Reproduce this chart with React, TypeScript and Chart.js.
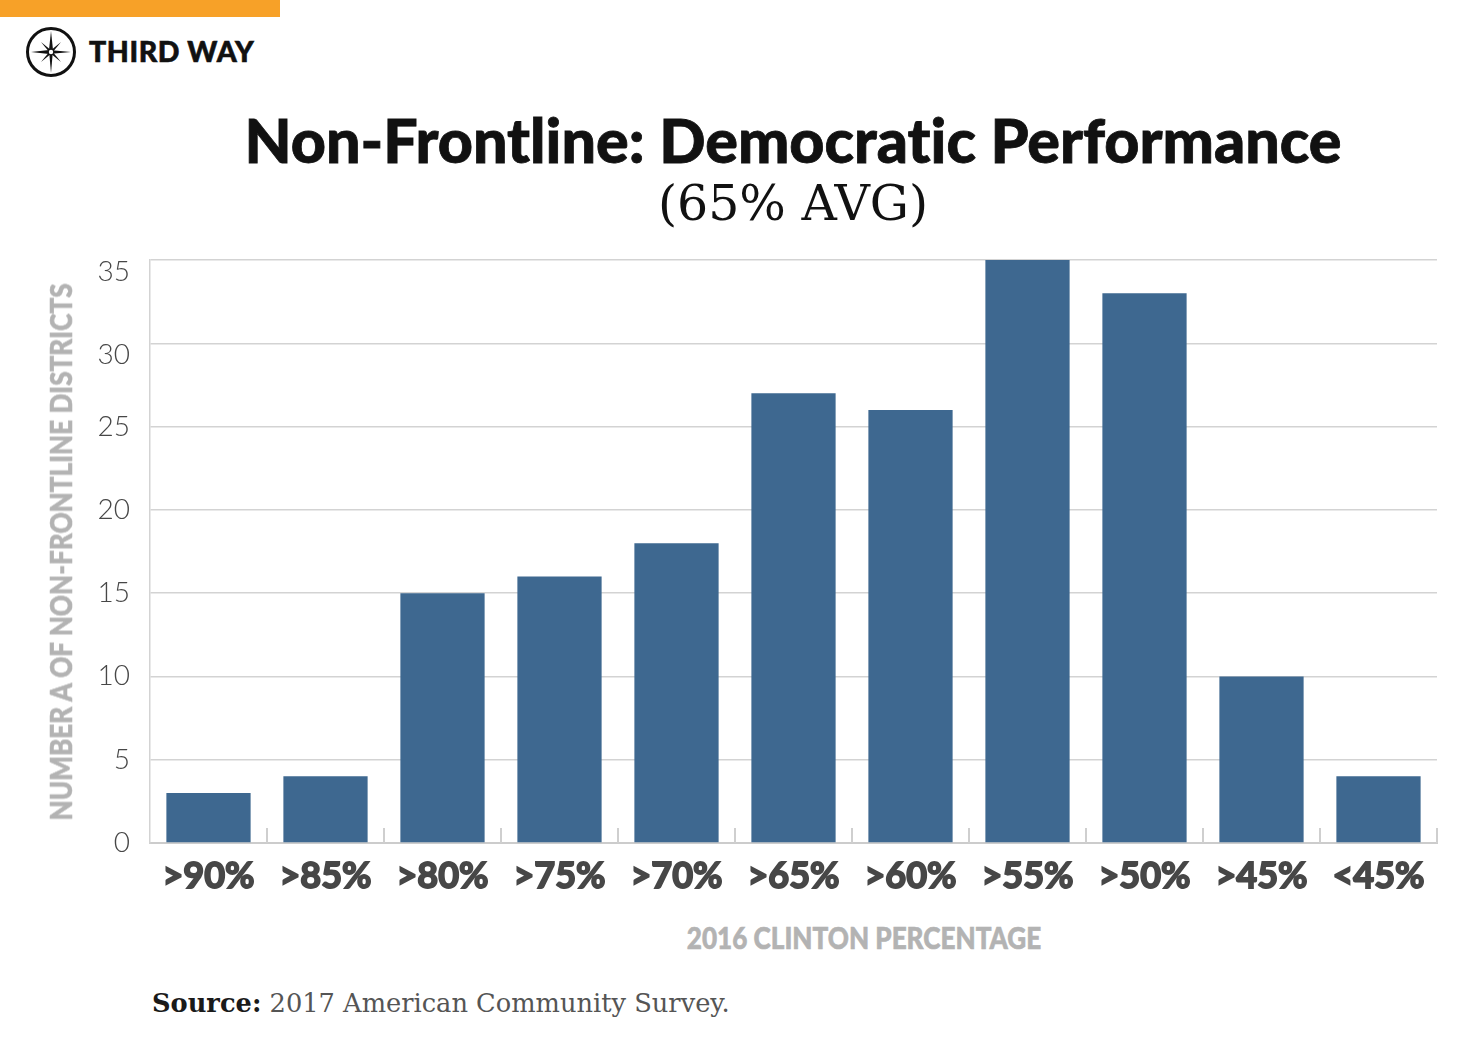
import React, { useEffect, useRef } from "react";
import { Chart, registerables } from "chart.js";

Chart.register(...registerables);

const categories = [">90%", ">85%", ">80%", ">75%", ">70%", ">65%", ">60%", ">55%", ">50%", ">45%", "<45%"];
const districtCounts = [3, 4, 15, 16, 18, 27, 26, 35, 33, 10, 4];
const yTickValues = [0, 5, 10, 15, 20, 25, 30, 35];
const loweredTickValues = [30, 35];

const titleText = "Non-Frontline: Democratic Performance";
const subtitleText = "(65% AVG)";
const yAxisTitle = "NUMBER A OF NON-FRONTLINE DISTRICTS";
const xAxisTitle = "2016 CLINTON PERCENTAGE";
const sourceLabel = "Source:";
const sourceText = " 2017 American Community Survey.";

const BAR_COLOR = "#3e6890";
const GRID_COLOR = "#d3d3d3";

const innerTicks = {
  id: "innerTicks",
  afterDatasetsDraw(chart: any) {
    const x = chart.scales.x;
    const ctx = chart.ctx;
    ctx.save();
    ctx.strokeStyle = "#cfcfcf";
    ctx.lineWidth = 2;
    for (let i = 0; i < categories.length; i++) {
      const px = Math.round(x.getPixelForValue(i + 0.5));
      ctx.beginPath();
      ctx.moveTo(px, x.top);
      ctx.lineTo(px, x.top - 15);
      ctx.stroke();
    }
    ctx.restore();
  },
};

function Logo() {
  return (
    <svg width="54" height="54" viewBox="0 0 54 54" style={{ position: "absolute", left: 24, top: 25 }}>
      <circle cx="27" cy="27" r="23.5" fill="none" stroke="#111" strokeWidth="3" />
      <polygon points="27,6 29,25 27,48 25,25" fill="#111" />
      <polygon points="7,27 25,25 47,27 25,29" fill="#111" />
      <polygon points="17,17 28,26 37,37 26,28" fill="#111" />
      <polygon points="37,17 28,28 17,37 26,26" fill="#111" />
      <circle cx="27" cy="27" r="2.2" fill="#fff" />
    </svg>
  );
}

export default function App() {
  const canvasRef = useRef<HTMLCanvasElement | null>(null);

  useEffect(() => {
    if (!canvasRef.current) return;
    const chart = new Chart(canvasRef.current, {
      type: "bar",
      data: {
        labels: categories,
        datasets: [
          {
            data: districtCounts,
            backgroundColor: BAR_COLOR,
            borderWidth: 0,
            categoryPercentage: 1,
            barPercentage: 0.72,
          },
        ],
      },
      plugins: [innerTicks],
      options: {
        animation: false,
        responsive: false,
        maintainAspectRatio: false,
        layout: { padding: { top: 15, right: 23, left: 0, bottom: 0 } },
        plugins: {
          legend: { display: false },
          tooltip: { enabled: false },
          title: { display: false },
        },
        scales: {
          x: {
            grid: { display: false, drawTicks: false },
            border: { display: true, color: "#cccccc", width: 2 },
            ticks: {
              color: "#474747",
              padding: 12,
              textStrokeColor: "#474747",
              textStrokeWidth: 1.8,
              font: { family: "Lato", weight: "bold", size: 36 },
            },
            afterFit(scale: any) {
              scale.height = 67;
            },
          },
          y: {
            min: 0,
            max: 35,
            afterBuildTicks(scale: any) {
              scale.ticks = yTickValues.map((v) => ({ value: v }));
            },
            grid: { color: GRID_COLOR, lineWidth: 1.5, drawTicks: false },
            border: { display: true, color: GRID_COLOR, width: 1.5 },
            ticks: {
              color: "#474747",
              padding: 20,
              callback: (v: any) => (loweredTickValues.includes(Number(v)) ? ["", String(v)] : String(v)),
              font: (ctx: any) => ({
                family: "Lato",
                weight: 300,
                size: 28,
                lineHeight: ctx.tick && loweredTickValues.includes(ctx.tick.value) ? "23px" : 1.2,
              }),
            },
            afterFit(scale: any) {
              scale.width = 110;
            },
          },
        },
      },
    });
    return () => chart.destroy();
  }, []);

  return (
    <div
      style={{
        position: "absolute",
        left: 0,
        top: 0,
        width: 1480,
        height: 1050,
        background: "#ffffff",
        overflow: "hidden",
        fontVariantLigatures: "none",
      }}
    >
      <div style={{ position: "absolute", left: 0, top: 0, width: 280, height: 17, background: "#f7a128" }} />
      <Logo />
      <div
        style={{
          position: "absolute",
          left: 89,
          top: 33,
          fontFamily: "Lato",
          fontWeight: 900,
          fontSize: 28.5,
          color: "#111",
          letterSpacing: 0.6,
          lineHeight: "36px",
          WebkitTextStroke: "0.6px #111",
        }}
      >
        THIRD WAY
      </div>
      <div
        style={{
          position: "absolute",
          left: 0,
          width: 1586,
          top: 100,
          textAlign: "center",
          fontFamily: "Lato",
          fontWeight: 900,
          fontSize: 61,
          color: "#111",
          lineHeight: "80px",
          WebkitTextStroke: "0.8px #111",
          fontVariantLigatures: "none",
        }}
      >
        {titleText}
      </div>
      <div
        style={{
          position: "absolute",
          left: 0,
          width: 1586,
          top: 174,
          textAlign: "center",
          fontFamily: "DejaVu Serif",
          fontSize: 49,
          color: "#111",
          lineHeight: "60px",
        }}
      >
        {subtitleText}
      </div>
      <canvas
        ref={canvasRef}
        width={1420}
        height={693}
        style={{ position: "absolute", left: 40, top: 217, width: 1420, height: 693 }}
      />
      <div
        style={{
          position: "absolute",
          left: 60,
          top: 552,
          transform: "translate(-50%, -50%) rotate(-90deg) scaleX(0.87)",
          whiteSpace: "nowrap",
          fontFamily: "Lato",
          fontWeight: 900,
          fontSize: 30,
          color: "#b3b3b3",
          lineHeight: "34px",
          WebkitTextStroke: "0.6px #b3b3b3",
        }}
      >
        {yAxisTitle}
      </div>
      <div
        style={{
          position: "absolute",
          left: 864,
          top: 937,
          transform: "translate(-50%, -50%) scaleX(0.87)",
          whiteSpace: "nowrap",
          fontFamily: "Lato",
          fontWeight: 900,
          fontSize: 30,
          color: "#b3b3b3",
          lineHeight: "34px",
          WebkitTextStroke: "0.6px #b3b3b3",
        }}
      >
        {xAxisTitle}
      </div>
      <div
        style={{
          position: "absolute",
          left: 152,
          top: 985,
          whiteSpace: "nowrap",
          fontFamily: "DejaVu Serif",
          fontSize: 25.7,
          color: "#555",
          lineHeight: "36px",
        }}
      >
        <span style={{ fontWeight: "bold", color: "#1a1a1a" }}>{sourceLabel}</span>
        {sourceText}
      </div>
    </div>
  );
}
